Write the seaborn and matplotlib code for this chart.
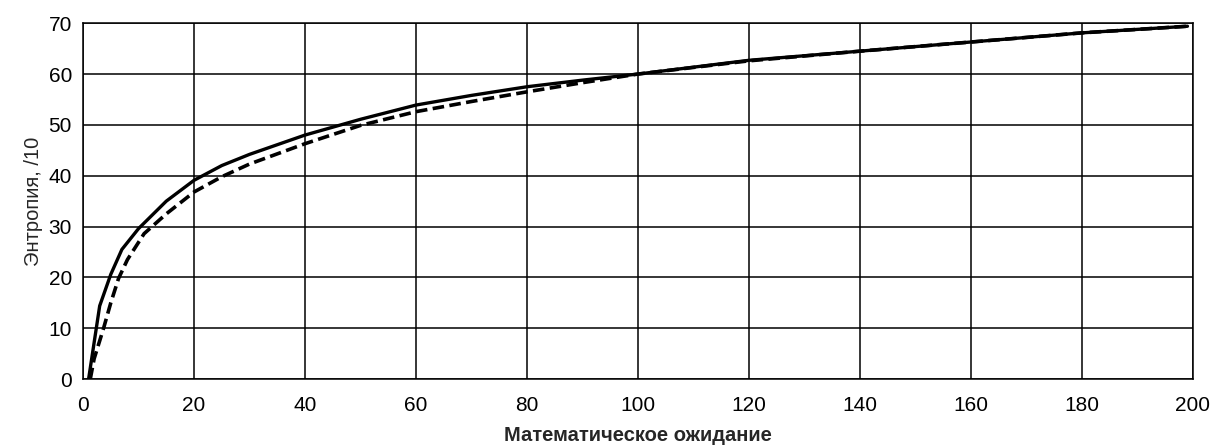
import matplotlib
matplotlib.use("Agg")
import matplotlib.pyplot as plt
import seaborn as sns
import numpy as np

# solid curve
x_solid = [1, 3, 5, 7, 10, 15, 20, 25, 30, 40, 50, 60, 70, 80, 90, 100, 120, 140, 160, 180, 199]
y_solid = [0, 14.4, 20.6, 25.5, 29.6, 35.0, 39.1, 42.0, 44.2, 48.0, 51.1, 53.9, 55.8, 57.5, 58.8, 60.0,
           62.7, 64.5, 66.3, 68.1, 69.4]

# dashed curve
x_dash = [1.3, 2, 3.7, 5, 6.4, 8, 11, 15, 20, 25, 30, 40, 50, 60, 70, 80, 90, 100, 120, 140, 160, 180, 199]
y_dash = [0, 4.0, 10.0, 15.0, 19.8, 23.5, 28.6, 32.5, 36.8, 39.8, 42.3, 46.3, 49.9, 52.6, 54.6, 56.5,
          58.3, 60.0, 62.6, 64.5, 66.3, 68.1, 69.4]

x_ticks = list(range(0, 201, 20))
y_ticks = list(range(0, 71, 10))

sns.set_style("white")
plt.rcParams["font.family"] = ["Liberation Sans", "DejaVu Sans"]

fig = plt.figure(figsize=(12.14, 4.46), dpi=100)
ax = fig.add_axes([0.0684, 0.150, 0.9143, 0.798])

sns.lineplot(x=x_solid, y=y_solid, ax=ax, color="black", linewidth=2.4, sort=False)
sns.lineplot(x=x_dash, y=y_dash, ax=ax, color="black", linewidth=2.6, sort=False,
             linestyle=(0, (3.2, 1.5)))

ax.set_xlim(0, 200)
ax.set_ylim(0, 70)
ax.set_xticks(x_ticks)
ax.set_yticks(y_ticks)
ax.grid(True, color="black", linewidth=1.1)
ax.set_axisbelow(True)
for s in ax.spines.values():
    s.set_color("black")
    s.set_linewidth(1.1)

ax.tick_params(axis="both", direction="out", length=5, width=1, color="black",
               labelsize=15, labelcolor="black", pad=7)
ax.tick_params(axis="y", pad=3)

ax.set_xlabel("Математическое ожидание", fontsize=14.5, fontweight="bold", labelpad=8)
ax.set_ylabel("Энтропия, /10", fontsize=14.5, labelpad=4)

fig.savefig("out.png", dpi=100)
